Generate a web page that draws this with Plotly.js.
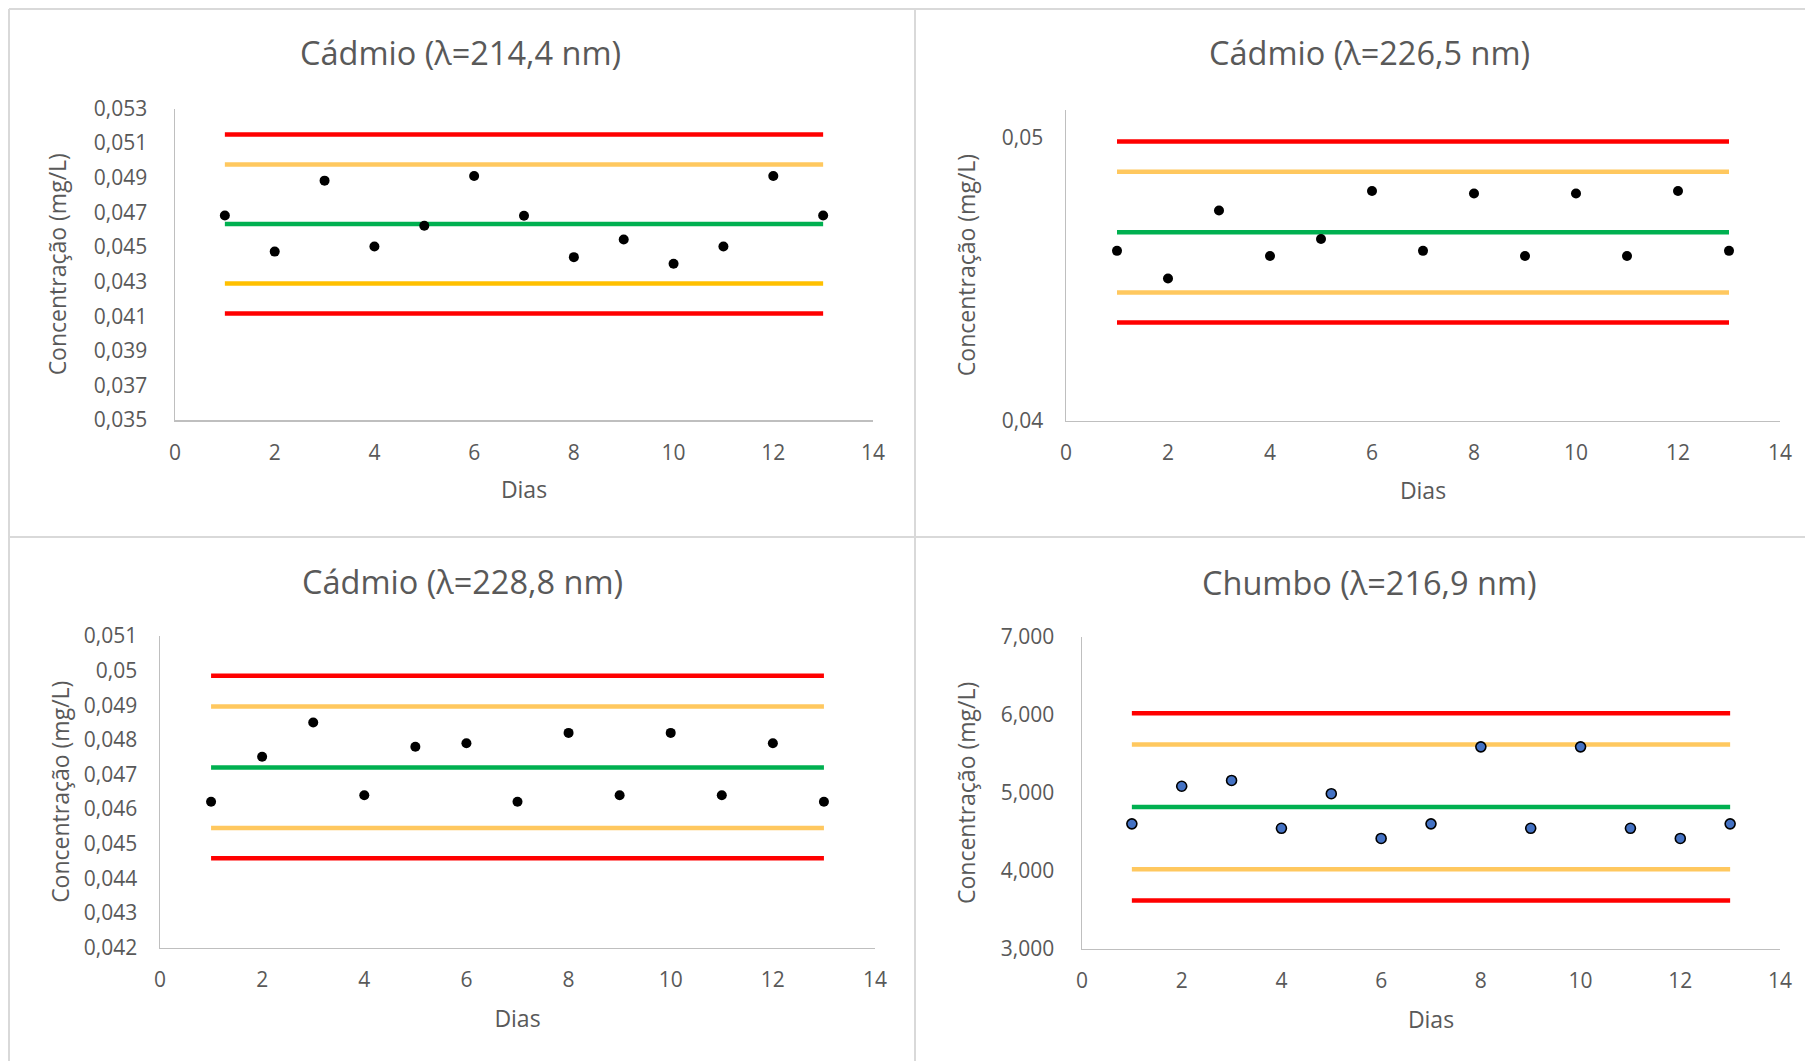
<!DOCTYPE html>
<html>
<head>
<meta charset="utf-8">
<script src="https://cdn.plot.ly/plotly-3.0.1.min.js"></script>
<style>
  html, body { margin: 0; padding: 0; background: #ffffff; }
  #chart { width: 1805px; height: 1061px; }
</style>
</head>
<body>
<div id="chart"></div>
<script>
// ---------------- DATA ----------------
const days = [1, 2, 3, 4, 5, 6, 7, 8, 9, 10, 11, 12, 13];

// Cádmio (λ=214,4 nm)
const cd2144Values = [0.04682, 0.04473, 0.04883, 0.04503, 0.04622, 0.04910, 0.04680, 0.04441, 0.04543, 0.04403, 0.04503, 0.04910, 0.04682];
// limits: LSC, LSA, LC, LIA, LIC
const cd2144Limits = [0.05150, 0.04977, 0.04632, 0.04289, 0.04116];
const cd2144TickVals = [0.035, 0.037, 0.039, 0.041, 0.043, 0.045, 0.047, 0.049, 0.051, 0.053];
const cd2144TickText = ["0,035", "0,037", "0,039", "0,041", "0,043", "0,045", "0,047", "0,049", "0,051", "0,053"];

// Cádmio (λ=226,5 nm)
const cd2265Values = [0.04600, 0.04502, 0.04743, 0.04582, 0.04642, 0.04812, 0.04600, 0.04803, 0.04582, 0.04803, 0.04582, 0.04812, 0.04600];
const cd2265Limits = [0.04987, 0.04880, 0.04666, 0.04453, 0.04347];
const cd2265TickVals = [0.04, 0.05];
const cd2265TickText = ["0,04", "0,05"];

// Cádmio (λ=228,8 nm)
const cd2288Values = [0.04621, 0.04751, 0.04850, 0.04640, 0.04780, 0.04790, 0.04621, 0.04820, 0.04640, 0.04820, 0.04640, 0.04790, 0.04621];
const cd2288Limits = [0.04985, 0.04896, 0.04720, 0.04545, 0.04458];
const cd2288TickVals = [0.042, 0.043, 0.044, 0.045, 0.046, 0.047, 0.048, 0.049, 0.05, 0.051];
const cd2288TickText = ["0,042", "0,043", "0,044", "0,045", "0,046", "0,047", "0,048", "0,049", "0,05", "0,051"];

// Chumbo (λ=216,9 nm)
const pb2169Values = [4602, 5085, 5159, 4545, 4989, 4415, 4602, 5590, 4545, 5590, 4545, 4415, 4602];
const pb2169Limits = [6021, 5620, 4819, 4018, 3618];
const pb2169TickVals = [3000, 4000, 5000, 6000, 7000];
const pb2169TickText = ["3,000", "4,000", "5,000", "6,000", "7,000"];

const xTickVals = [0, 2, 4, 6, 8, 10, 12, 14];
const xTickText = ["0", "2", "4", "6", "8", "10", "12", "14"];

const chartTitles = ["Cádmio (λ=214,4 nm)", "Cádmio (λ=226,5 nm)", "Cádmio (λ=228,8 nm)", "Chumbo (λ=216,9 nm)"];
const xTitle = "Dias";
const yTitle = "Concentração (mg/L)";

// ---------------- STYLE / LAYOUT ----------------
const W = 1805, H = 1061;
const RED = "#FF0000", LORANGE = "#FFC85F", GOLD = "#FFC000", GREEN = "#00B050";
const TXT = "#595959";
const FONT = "Open Sans, Noto Sans, sans-serif";

const panels = [
  { vals: cd2144Values, lim: cd2144Limits, tv: cd2144TickVals, tt: cd2144TickText, yr: [0.035, 0.053],
    colors: [RED, LORANGE, GREEN, GOLD, RED], px: [175, 873], py: [108.5, 420], marker: "black",
    tstand: 22, ytStand: 21, xtStand: 17, titlePos: [461, 53] },
  { vals: cd2265Values, lim: cd2265Limits, tv: cd2265TickVals, tt: cd2265TickText, yr: [0.04, 0.051],
    colors: [RED, LORANGE, GREEN, LORANGE, RED], px: [1066, 1780], py: [109.5, 420.5], marker: "black",
    tstand: 17, ytStand: 20, xtStand: 17, titlePos: [1369, 53] },
  { vals: cd2288Values, lim: cd2288Limits, tv: cd2288TickVals, tt: cd2288TickText, yr: [0.042, 0.051],
    colors: [RED, LORANGE, GREEN, LORANGE, RED], px: [160, 875], py: [636, 947.5], marker: "black",
    tstand: 17, ytStand: 8, xtStand: 18, titlePos: [463, 581] },
  { vals: pb2169Values, lim: pb2169Limits, tv: pb2169TickVals, tt: pb2169TickText, yr: [3000, 7000],
    colors: [RED, LORANGE, GREEN, LORANGE, RED], px: [1082, 1780], py: [637, 948.7], marker: "blue",
    tstand: 22, ytStand: 19, xtStand: 18, titlePos: [1369, 582] }
];

const traces = [];
const layout = {
  width: W, height: H,
  margin: { l: 0, r: 0, t: 0, b: 0 },
  paper_bgcolor: "#ffffff", plot_bgcolor: "#ffffff",
  showlegend: false,
  font: { family: FONT, color: TXT },
  annotations: [],
  shapes: []
};

panels.forEach((p, i) => {
  const n = i + 1;
  const xa = n === 1 ? "x" : "x" + n;
  const ya = n === 1 ? "y" : "y" + n;
  // control lines
  p.lim.forEach((v, k) => {
    traces.push({
      type: "scatter", mode: "lines", xaxis: xa, yaxis: ya,
      x: [days[0], days[days.length - 1]], y: [v, v],
      line: { color: p.colors[k], width: 4.5 },
      hoverinfo: "skip"
    });
  });
  // points
  traces.push({
    type: "scatter", mode: "markers", xaxis: xa, yaxis: ya,
    x: days, y: p.vals,
    marker: p.marker === "blue"
      ? { color: "#4472C4", size: 10, line: { color: "#000000", width: 1.6 } }
      : { color: "#000000", size: 10 }
  });
  const xk = n === 1 ? "xaxis" : "xaxis" + n;
  const yk = n === 1 ? "yaxis" : "yaxis" + n;
  layout[xk] = {
    domain: [p.px[0] / W, p.px[1] / W], anchor: ya, range: [0, 14],
    tickvals: xTickVals, ticktext: xTickText, ticks: "", ticklabelstandoff: 13,
    showgrid: false, zeroline: false, showline: true, linecolor: "#BFBFBF", linewidth: 1.5,
    tickfont: { size: 21, color: TXT, family: FONT },
    title: { text: xTitle, font: { size: 23, color: TXT, family: FONT }, standoff: p.xtStand },
    fixedrange: true
  };
  layout[yk] = {
    domain: [1 - p.py[1] / H, 1 - p.py[0] / H], anchor: xa, range: p.yr,
    tickvals: p.tv, ticktext: p.tt, ticks: "", ticklabelstandoff: p.tstand,
    showgrid: false, zeroline: false, showline: true, linecolor: "#BFBFBF", linewidth: 1.5,
    tickfont: { size: 21, color: TXT, family: FONT },
    title: { text: yTitle, font: { size: 23, color: TXT, family: FONT }, standoff: p.ytStand },
    fixedrange: true
  };
  layout.annotations.push({
    text: chartTitles[i], xref: "paper", yref: "paper",
    x: p.titlePos[0] / W, y: 1 - p.titlePos[1] / H, xanchor: "center", yanchor: "middle",
    showarrow: false, font: { size: 32.5, color: TXT, family: FONT }
  });
});

// panel frame lines
const frameColor = "#D9D9D9";
const frames = [
  [9, 9, W, 9],        // top
  [9, 9, 9, H],        // left
  [915, 9, 915, H],    // middle vertical
  [9, 537, W, 537]     // middle horizontal
];
frames.forEach(f => {
  layout.shapes.push({
    type: "line", xref: "paper", yref: "paper",
    x0: f[0] / W, y0: 1 - f[1] / H, x1: f[2] / W, y1: 1 - f[3] / H,
    line: { color: frameColor, width: 2 }, layer: "below"
  });
});

Plotly.newPlot("chart", traces, layout, { displayModeBar: false, staticPlot: true });
</script>
</body>
</html>
